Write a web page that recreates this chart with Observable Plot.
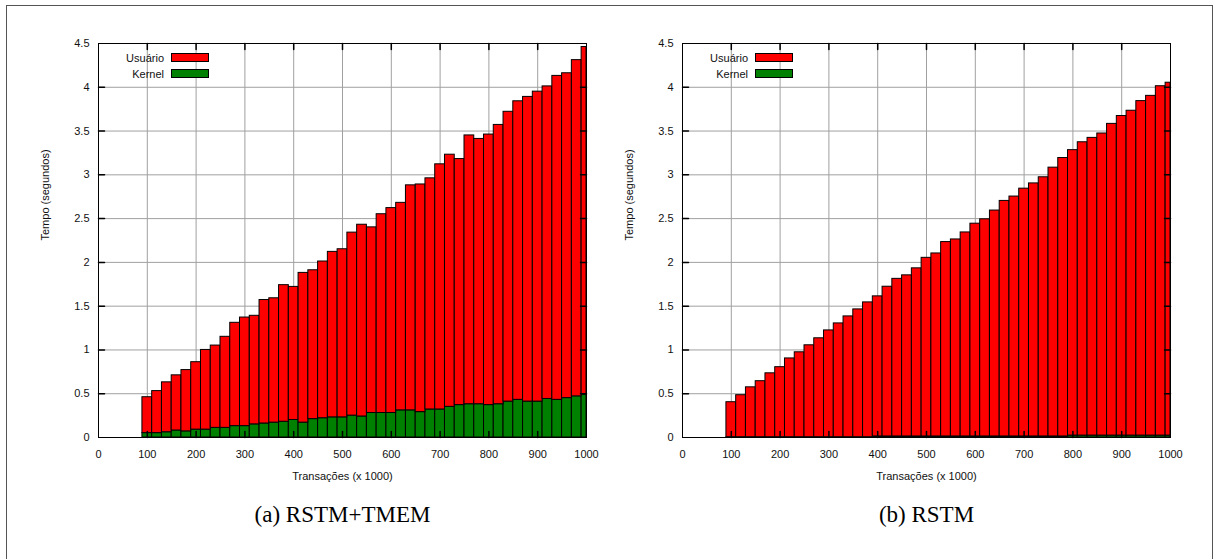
<!DOCTYPE html>
<html><head><meta charset="utf-8">
<script src="https://cdn.jsdelivr.net/npm/d3@7"></script>
<script src="https://cdn.jsdelivr.net/npm/@observablehq/plot@0.6"></script>
<style>
html,body{margin:0;padding:0;background:#fff;}
body{width:1215px;height:559px;overflow:hidden;font-family:"Liberation Sans",Arial,sans-serif;}
#wrap{position:relative;width:1215px;height:559px;}
#frame{position:absolute;left:6px;top:5px;width:1207px;height:600px;border:1px solid #555;box-sizing:border-box;}
.panel{position:absolute;top:0;width:600px;height:559px;}
.panel svg{position:absolute;left:0;top:0;}
.leg{position:absolute;font-size:11px;color:#111;height:12px;line-height:12px;}
.leg .lab{position:absolute;right:0;top:0;white-space:nowrap;}
.sw{position:absolute;width:38px;height:9px;border:1px solid #000;box-sizing:border-box;}
</style></head>
<body><div id="wrap"><div id="frame"></div></div>
<script>
// ---- data ----
const transactions = [100,120,140,160,180,200,220,240,260,280,300,320,340,360,380,400,420,440,460,480,500,520,540,560,580,600,620,640,660,680,700,720,740,760,780,800,820,840,860,880,900,920,940,960,980,1000];

const userA = [0.41,0.48,0.57,0.63,0.70,0.77,0.91,0.94,1.04,1.18,1.24,1.24,1.41,1.42,1.56,1.52,1.71,1.70,1.79,1.89,1.92,2.09,2.19,2.12,2.27,2.34,2.37,2.57,2.60,2.64,2.80,2.88,2.81,3.07,3.03,3.09,3.19,3.31,3.41,3.48,3.54,3.57,3.70,3.71,3.84,3.97];
const kernelA = [0.05,0.05,0.06,0.08,0.07,0.09,0.09,0.11,0.11,0.13,0.13,0.15,0.16,0.17,0.18,0.20,0.17,0.21,0.22,0.23,0.23,0.25,0.24,0.28,0.28,0.28,0.31,0.31,0.29,0.32,0.32,0.35,0.37,0.38,0.38,0.37,0.38,0.41,0.43,0.41,0.41,0.44,0.43,0.45,0.47,0.49];

const userB = [0.40,0.48,0.57,0.64,0.73,0.80,0.90,0.97,1.05,1.13,1.22,1.30,1.38,1.46,1.54,1.60,1.71,1.80,1.84,1.92,2.04,2.09,2.22,2.25,2.33,2.43,2.48,2.58,2.69,2.74,2.83,2.89,2.96,3.07,3.18,3.26,3.35,3.40,3.45,3.56,3.65,3.71,3.82,3.88,3.99,4.03];
const kernelB = [0.003,0.003,0.003,0.003,0.003,0.003,0.003,0.003,0.003,0.003,0.003,0.003,0.003,0.003,0.003,0.012,0.012,0.012,0.012,0.012,0.012,0.012,0.012,0.012,0.012,0.012,0.012,0.012,0.012,0.012,0.012,0.012,0.012,0.012,0.012,0.022,0.022,0.022,0.022,0.022,0.022,0.022,0.022,0.022,0.022,0.022];

const xTicks = [0,100,200,300,400,500,600,700,800,900,1000];
const yTicks = [0,0.5,1,1.5,2,2.5,3,3.5,4,4.5];
const seriesNames = ["Usuário","Kernel"];
const seriesColors = ["#ff0000","#008000"];
const xLabel = "Transações (x 1000)";
const yLabel = "Tempo (segundos)";
const captions = ["(a) RSTM+TMEM","(b) RSTM"];
const barWidth = 20;

// ---- drawing ----
const tickShape = {draw(ctx, l){ ctx.moveTo(0,0); ctx.lineTo(0,-l); }};
const ML = 98, MT = 43, PW = 488;

function panel(user, kernel, caption, left) {
  const rows = transactions.map((t,i)=>({t, k: kernel[i], u: user[i]}));
  const chart = Plot.plot({
    width: 600, height: 559,
    marginLeft: ML, marginRight: 600-ML-PW, marginTop: MT, marginBottom: 122,
    x: {domain: [0,1000], clamp: true},
    y: {domain: [0,4.5]},
    style: {fontFamily: "'Liberation Sans', Arial, sans-serif", fontSize: "11px", color: "#111", background: "transparent", overflow: "visible"},
    marks: [
      Plot.ruleX(xTicks.slice(1,-1), {stroke: "#a0a0a0", strokeWidth: 1}),
      Plot.ruleY(yTicks.slice(1,-1), {stroke: "#a0a0a0", strokeWidth: 1}),
      Plot.rect(rows, {x1: d=>d.t-barWidth/2, x2: d=>d.t+barWidth/2, y1: 0, y2: d=>d.k, fill: seriesColors[1], stroke: "#000", strokeWidth: 1}),
      Plot.rect(rows, {x1: d=>d.t-barWidth/2, x2: d=>d.t+barWidth/2, y1: d=>d.k, y2: d=>d.k+d.u, fill: seriesColors[0], stroke: "#000", strokeWidth: 1}),
      Plot.vector(xTicks.slice(1,-1), {x: d=>d, y: 0, length: 6, rotate: 0, anchor: "start", shape: tickShape, stroke: "#000"}),
      Plot.vector(xTicks.slice(1,-1), {x: d=>d, y: 4.5, length: 6, rotate: 180, anchor: "start", shape: tickShape, stroke: "#000"}),
      Plot.vector(yTicks.slice(1,-1), {x: 0, y: d=>d, length: 6, rotate: 90, anchor: "start", shape: tickShape, stroke: "#000"}),
      Plot.vector(yTicks.slice(1,-1), {x: 1000, y: d=>d, length: 6, rotate: 270, anchor: "start", shape: tickShape, stroke: "#000"}),
      Plot.frame({stroke: "#000", strokeWidth: 1}),
      Plot.axisX({ticks: xTicks, tickSize: 0, tickPadding: 13, label: null, tickFormat: d=>String(d)}),
      Plot.axisY({ticks: yTicks, tickSize: 0, tickPadding: 9, label: null, tickFormat: d=>String(d)}),
      Plot.text([xLabel], {frameAnchor: "bottom", dy: 42, text: d=>d, fill: "#111"}),
      Plot.text([yLabel], {frameAnchor: "left", dx: -53, rotate: -90, text: d=>d, fill: "#111"}),
      Plot.text([caption], {frameAnchor: "bottom", dy: 84, text: d=>d, fontFamily: "'Liberation Serif', 'Times New Roman', serif", fontSize: 23, fill: "#000"})
    ]
  });
  const div = document.createElement("div");
  div.className = "panel";
  div.style.left = left + "px";
  div.appendChild(chart);
  seriesNames.forEach((name, i) => {
    const lg = document.createElement("div");
    lg.className = "leg";
    lg.style.left = "0px";
    lg.style.width = (ML + 66) + "px";
    lg.style.top = (52 + i*16) + "px";
    lg.innerHTML = `<span class="lab">${name}</span>`;
    div.appendChild(lg);
    const sw = document.createElement("div");
    sw.className = "sw";
    sw.style.left = (ML + 73) + "px";
    sw.style.top = (53 + i*16) + "px";
    sw.style.background = seriesColors[i];
    div.appendChild(sw);
  });
  document.getElementById("wrap").appendChild(div);
}
panel(userA, kernelA, captions[0], 0);
panel(userB, kernelB, captions[1], 584);
</script>
</body></html>
